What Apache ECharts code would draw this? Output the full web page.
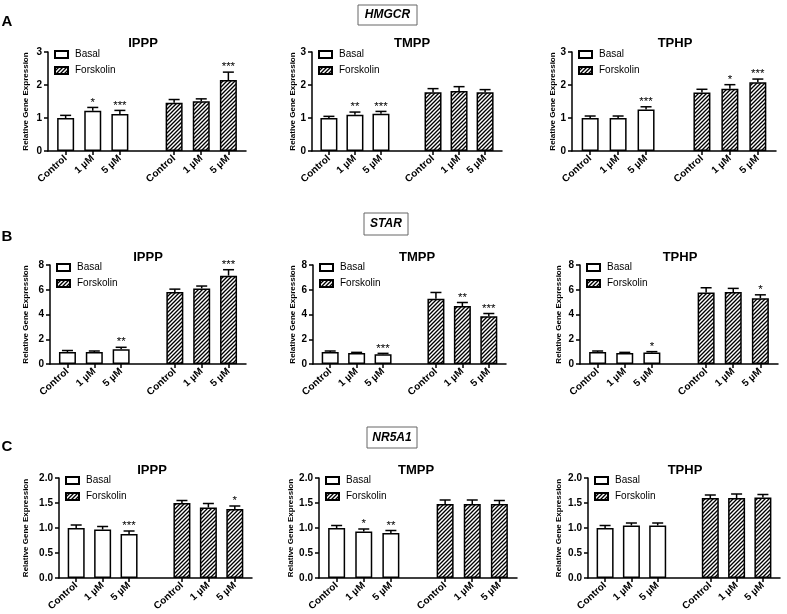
<!DOCTYPE html>
<html><head><meta charset="utf-8">
<script src="https://cdn.jsdelivr.net/npm/echarts@6/dist/echarts.min.js"></script>
<style>html,body{margin:0;padding:0;background:#fff}#c{width:787px;height:614px}</style>
</head><body><div id="c"></div>
<script>
const FONT = 'Liberation Sans, Arial, Helvetica, sans-serif';

// ---------- labels ----------
const doseLabels = ['Control', '1 µM', '5 µM'];
const genes = ['HMGCR', 'STAR', 'NR5A1'];
const compounds = ['IPPP', 'TMPP', 'TPHP'];
const panelLetters = ['A', 'B', 'C'];
const seriesNames = ['Basal', 'Forskolin'];
const yMax = [3, 8, 2];
const yStep = [1, 2, 0.5];
const yDecimals = [0, 0, 1];

// ---------- data (rows: IPPP, TMPP, TPHP; cols: Control, 1 µM, 5 µM) ----------
const hmgcrBasalMean = [[1.00, 1.22, 1.12], [1.00, 1.10, 1.13], [1.00, 1.00, 1.26]];
const hmgcrBasalErr  = [[0.08, 0.10, 0.11], [0.05, 0.08, 0.07], [0.06, 0.06, 0.08]];
const hmgcrForskMean = [[1.46, 1.51, 2.15], [1.78, 1.82, 1.78], [1.77, 1.89, 2.08]];
const hmgcrForskErr  = [[0.10, 0.07, 0.24], [0.11, 0.13, 0.08], [0.10, 0.12, 0.10]];
const hmgcrBasalSig  = [['', '*', '***'], ['', '**', '***'], ['', '', '***']];
const hmgcrForskSig  = [['', '', '***'], ['', '', ''], ['', '*', '***']];

const starBasalMean = [[0.97, 0.97, 1.19], [0.97, 0.89, 0.78], [0.97, 0.89, 0.92]];
const starBasalErr  = [[0.12, 0.08, 0.16], [0.08, 0.05, 0.08], [0.08, 0.05, 0.08]];
const starForskMean = [[5.81, 6.11, 7.14], [5.27, 4.68, 3.86], [5.78, 5.81, 5.32]];
const starForskErr  = [[0.24, 0.19, 0.48], [0.51, 0.29, 0.22], [0.38, 0.30, 0.27]];
const starBasalSig  = [['', '', '**'], ['', '', '***'], ['', '', '*']];
const starForskSig  = [['', '', '***'], ['', '**', '***'], ['', '', '*']];

const nr5a1BasalMean = [[1.00, 0.97, 0.88], [1.00, 0.93, 0.90], [1.00, 1.05, 1.05]];
const nr5a1BasalErr  = [[0.06, 0.06, 0.06], [0.05, 0.05, 0.05], [0.05, 0.05, 0.05]];
const nr5a1ForskMean = [[1.50, 1.41, 1.38], [1.48, 1.48, 1.48], [1.60, 1.60, 1.61]];
const nr5a1ForskErr  = [[0.05, 0.08, 0.06], [0.08, 0.08, 0.07], [0.06, 0.08, 0.06]];
const nr5a1BasalSig  = [['', '', '***'], ['', '*', '**'], ['', '', '']];
const nr5a1ForskSig  = [['', '', '*'], ['', '', ''], ['', '', '']];

const geneData = [
  [hmgcrBasalMean, hmgcrBasalErr, hmgcrForskMean, hmgcrForskErr, hmgcrBasalSig, hmgcrForskSig],
  [starBasalMean, starBasalErr, starForskMean, starForskErr, starBasalSig, starForskSig],
  [nr5a1BasalMean, nr5a1BasalErr, nr5a1ForskMean, nr5a1ForskErr, nr5a1BasalSig, nr5a1ForskSig]
];

// ---------- layout ----------
const rowTop = [52, 265, 478];
const rowHeight = [99, 99, 100];
const axisLeft = [[48, 312, 572], [50, 313, 580], [59, 319, 588]];
const axisWidth = [[198, 190, 204], [196, 193, 198], [193, 198, 192]];
const yNameCenter = [25, 292, 558];
const subTitleX = [[143, 412, 675], [148, 417, 680], [152, 416, 685]];
const subTitleY = [43, 257, 470];
const geneBox = [[358, 5, 59, 20], [364, 213, 44, 22], [367, 427, 50, 21]];
const letterY = [22, 237, 447];
const basalPos = [0, 1, 2];
const forskPos = [4, 5, 6];

function makeHatch() {
  const p = 4;
  const c = document.createElement('canvas');
  c.width = p; c.height = p;
  const g = c.getContext('2d');
  g.fillStyle = '#fff'; g.fillRect(0, 0, p, p);
  g.strokeStyle = '#000'; g.lineWidth = 1.35;
  g.beginPath();
  g.moveTo(0, p); g.lineTo(p, 0);
  g.moveTo(-1, 1); g.lineTo(1, -1);
  g.moveTo(p - 1, p + 1); g.lineTo(p + 1, p - 1);
  g.stroke();
  return c;
}
const hatch = { image: makeHatch(), repeat: 'repeat' };

const grids = [], xAxes = [], yAxes = [], series = [], legends = [], graphics = [];

for (let r = 0; r < 3; r++) {
  const [bMean, bErr, fMean, fErr, bSig, fSig] = geneData[r];
  for (let c = 0; c < 3; c++) {
    const idx = r * 3 + c;
    grids.push({ left: axisLeft[r][c], top: rowTop[r], width: axisWidth[r][c], height: rowHeight[r], containLabel: false });
    xAxes.push({
      type: 'value', gridIndex: idx, min: -0.65, max: 6.65,
      axisLine: { show: true, onZero: false, lineStyle: { color: '#000', width: 1.5 } },
      axisTick: { show: true, customValues: basalPos.concat(forskPos), length: 4, lineStyle: { color: '#000', width: 1.5 } },
      axisLabel: {
        customValues: basalPos.concat(forskPos), rotate: 42, margin: 6,
        fontSize: 10, fontWeight: 'bold', color: '#000', fontFamily: FONT,
        formatter: v => doseLabels[v < 3 ? v : v - 4]
      },
      splitLine: { show: false }
    });
    yAxes.push({
      type: 'value', gridIndex: idx, min: 0, max: yMax[r], interval: yStep[r],
      axisLine: { show: true, onZero: false, lineStyle: { color: '#000', width: 1.5 } },
      axisTick: { show: true, length: 4, lineStyle: { color: '#000', width: 1.5 } },
      axisLabel: { fontSize: 10, fontWeight: 'bold', color: '#000', margin: 6, fontFamily: FONT,
        formatter: v => v.toFixed(yDecimals[r]) },
      splitLine: { show: false },
      name: 'Relative Gene Expression', nameLocation: 'middle',
      nameGap: axisLeft[r][c] - yNameCenter[c] - 4.5,
      nameTextStyle: { fontSize: 8, fontWeight: 'bold', color: '#000', fontFamily: FONT }
    });
    series.push({
      name: 'Basal', type: 'bar', xAxisIndex: idx, yAxisIndex: idx,
      barWidth: 17, barGap: '-100%',
      itemStyle: { color: '#fff', borderColor: '#000', borderWidth: 1.5 },
      data: basalPos.map((p, i) => [p, bMean[c][i]]),
      silent: true
    });
    series.push({
      name: 'Forskolin', type: 'bar', xAxisIndex: idx, yAxisIndex: idx,
      barWidth: 17, barGap: '-100%',
      itemStyle: { color: hatch, borderColor: '#000', borderWidth: 1.5 },
      data: forskPos.map((p, i) => [p, fMean[c][i]]),
      silent: true
    });
    const errData = basalPos.map((p, i) => [p, bMean[c][i], bErr[c][i]])
      .concat(forskPos.map((p, i) => [p, fMean[c][i], fErr[c][i]]));
    const sigs = bSig[c].concat(fSig[c]);
    series.push({
      name: 'err' + idx, type: 'custom', xAxisIndex: idx, yAxisIndex: idx, silent: true, z: 5,
      data: errData,
      renderItem: (params, api) => {
        const x = api.value(0), m = api.value(1), e = api.value(2);
        const base = api.coord([x, m]);
        const top = api.coord([x, m + e]);
        const ls = { stroke: '#000', lineWidth: 1.5 };
        const children = [
          { type: 'line', shape: { x1: base[0], y1: base[1], x2: top[0], y2: top[1] }, style: ls },
          { type: 'line', shape: { x1: top[0] - 5.5, y1: top[1], x2: top[0] + 5.5, y2: top[1] }, style: ls }
        ];
        const s = sigs[params.dataIndex];
        if (s) {
          children.push({ type: 'text', x: top[0], y: top[1] + 1,
            style: { text: s, align: 'center', verticalAlign: 'bottom', fontSize: 11.5, fontFamily: FONT, fill: '#000' } });
        }
        return { type: 'group', children };
      }
    });
    legends.push({
      data: seriesNames, orient: 'vertical', left: axisLeft[r][c] + 6, top: rowTop[r] - 2.5,
      itemWidth: 13, itemHeight: 7, itemGap: 6, padding: 0, icon: 'rect', selectedMode: false,
      textStyle: { fontSize: 10, color: '#000', fontFamily: FONT, padding: [0, 0, 0, 2] }
    });
    graphics.push({ type: 'text', x: subTitleX[r][c], y: subTitleY[r],
      style: { text: compounds[c], align: 'center', verticalAlign: 'middle', fontSize: 13, fontWeight: 'bold', fontFamily: FONT, fill: '#000' } });
  }
  const [bx, by, bw, bh] = geneBox[r];
  graphics.push({ type: 'rect', shape: { x: bx, y: by, width: bw, height: bh },
    style: { fill: '#fff', stroke: '#666', lineWidth: 1 } });
  graphics.push({ type: 'text', x: bx + bw / 2, y: by + bh / 2,
    style: { text: genes[r], align: 'center', verticalAlign: 'middle', fontSize: 12, fontWeight: 'bold', fontStyle: 'italic', fontFamily: FONT, fill: '#000' } });
  graphics.push({ type: 'text', x: 7, y: letterY[r],
    style: { text: panelLetters[r], align: 'center', verticalAlign: 'middle', fontSize: 15, fontWeight: 'bold', fontFamily: FONT, fill: '#000' } });
}

const chart = echarts.init(document.getElementById('c'), null, { renderer: 'canvas' });
chart.setOption({
  animation: false,
  backgroundColor: '#fff',
  textStyle: { fontFamily: FONT },
  grid: grids, xAxis: xAxes, yAxis: yAxes, series, legend: legends, graphic: graphics
});
</script></body></html>
